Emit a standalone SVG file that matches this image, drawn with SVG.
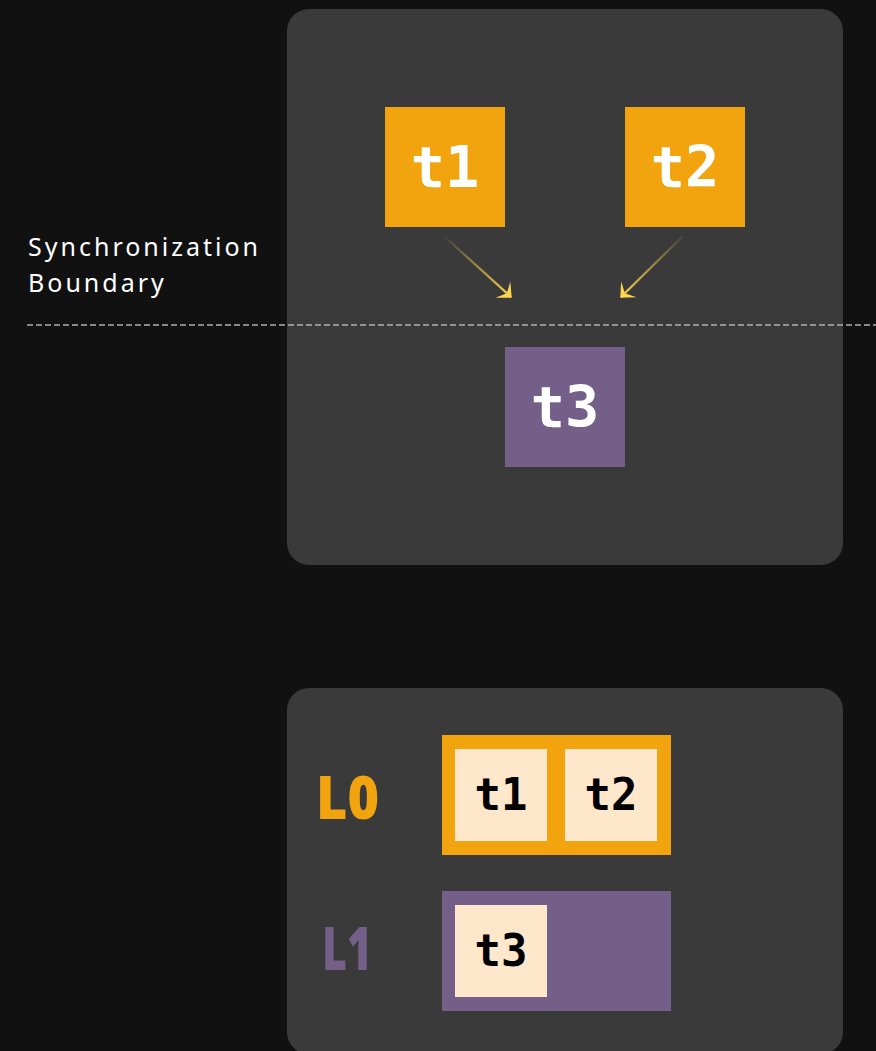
<svg xmlns="http://www.w3.org/2000/svg" width="876" height="1051" viewBox="0 0 876 1051">
  <defs>
    <style>
      .panel { fill: #3a3a3a; }
      .orange { fill: #f1a40e; }
      .purple { fill: #745f88; }
      .cell { fill: #ffe7cb; }
      .big { font-family: "DejaVu Sans Mono", monospace; font-weight: bold; font-size: 57px; fill: #ffffff; text-anchor: middle; }
      .small { font-family: "DejaVu Sans Mono", monospace; font-weight: bold; font-size: 44px; fill: #000000; text-anchor: middle; }
      .level { font-family: "Open Sans", "DejaVu Sans", sans-serif; font-weight: 800; font-size: 60px; }
      .note { font-family: "Noto Sans", "DejaVu Sans", sans-serif; font-size: 25px; fill: #ffffff; letter-spacing: 3px; }
      .flow { fill: none; stroke-width: 2.2; marker-end: url(#head); }
    </style>
    <linearGradient id="g1" gradientUnits="userSpaceOnUse" x1="445" y1="237" x2="512" y2="298">
      <stop offset="0" stop-color="#ffd54f" stop-opacity="0.05"/>
      <stop offset="1" stop-color="#ffd54f"/>
    </linearGradient>
    <linearGradient id="g2" gradientUnits="userSpaceOnUse" x1="683" y1="236" x2="620" y2="298">
      <stop offset="0" stop-color="#ffd54f" stop-opacity="0.05"/>
      <stop offset="1" stop-color="#ffd54f"/>
    </linearGradient>
    <!-- barbed arrowhead, tip at the origin -->
    <marker id="head" viewBox="-12 -12 14 24" refX="0" refY="0" markerWidth="14" markerHeight="24" markerUnits="userSpaceOnUse" orient="auto">
      <path d="M1,0 L-11,-11 L-5.5,0 L-11,11 Z" fill="#ffd54f"/>
    </marker>
  </defs>

  <rect width="876" height="1051" fill="#111111"/>

  <!-- upper panel: task graph -->
  <rect class="panel" x="287" y="9" width="556" height="556" rx="22"/>

  <g id="t1">
    <rect class="orange" x="385" y="107" width="120" height="120"/>
    <text class="big" x="445" y="187">t1</text>
  </g>
  <g id="t2">
    <rect class="orange" x="625" y="107" width="120" height="120"/>
    <text class="big" x="685" y="187">t2</text>
  </g>
  <g id="t3">
    <rect class="purple" x="505" y="347" width="120" height="120"/>
    <text class="big" x="565" y="427">t3</text>
  </g>

  <g id="connectors">
    <line class="flow" x1="445" y1="237" x2="511" y2="297" stroke="url(#g1)"/>
    <line class="flow" x1="683" y1="236" x2="621" y2="297" stroke="url(#g2)"/>
  </g>

  <g id="boundary">
    <line x1="27" y1="325" x2="876" y2="325" stroke="#b0b0b0" stroke-width="1.5" stroke-dasharray="6,3"/>
    <text class="note" x="28" y="256">Synchronization</text>
    <text class="note" x="28" y="292">Boundary</text>
  </g>

  <!-- lower panel: levels -->
  <rect class="panel" x="287" y="688" width="556" height="366" rx="22"/>

  <g id="level0">
    <text class="level" x="316" y="819" fill="#f1a40e" textLength="63" lengthAdjust="spacingAndGlyphs">L0</text>
    <rect class="orange" x="442" y="735" width="229" height="120"/>
    <rect class="cell" x="455" y="749" width="92" height="92"/>
    <rect class="cell" x="565" y="749" width="92" height="92"/>
    <text class="small" x="501" y="810">t1</text>
    <text class="small" x="611" y="810">t2</text>
  </g>

  <g id="level1">
    <text class="level" x="322" y="970" fill="#745f88" textLength="50" lengthAdjust="spacingAndGlyphs">L1</text>
    <rect class="purple" x="442" y="891" width="229" height="120"/>
    <rect class="cell" x="455" y="905" width="92" height="92"/>
    <text class="small" x="501" y="966">t3</text>
  </g>
</svg>
